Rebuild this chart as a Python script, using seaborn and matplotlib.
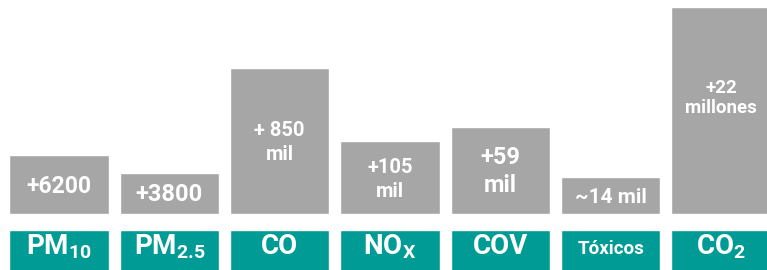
import matplotlib
matplotlib.use("Agg")
import matplotlib.pyplot as plt
import seaborn as sns
import pandas as pd

# ---- data ----
categories = ["PM10", "PM2.5", "CO", "NOx", "COV", "Tóxicos", "CO2"]
category_labels = [r"PM$_{\mathrm{10}}$", r"PM$_{\mathrm{2.5}}$", "CO",
                   r"NO$_{\mathrm{X}}$", "COV", "Tóxicos", r"CO$_{\mathrm{2}}$"]
bar_heights = [59, 41, 146, 73, 87, 37, 207]
value_labels = ["+6200", "+3800", "+ 850\nmil", "+105\nmil", "+59\nmil",
                "~14 mil", "+22\nmillones"]

# ---- style ----
GRAY = "#A6A6A6"
TEAL = "#009B95"
FONT = ["Roboto", "DejaVu Sans"]
value_sizes = [16.5, 17, 14.5, 14.5, 17, 15, 13.5]
value_yfrac = [0.47, 0.48, 0.49, 0.47, 0.49, 0.45, 0.56]
value_spacing = [1.3, 1.3, 1.35, 1.35, 1.3, 1.3, 1.1]
cat_sizes = [20, 20, 20, 20, 20, 13.5, 20]

sns.set_theme(style="white")
plt.rcParams["mathtext.fontset"] = "custom"
plt.rcParams["mathtext.rm"] = "Roboto:bold"
plt.rcParams["mathtext.it"] = "Roboto:bold"
plt.rcParams["mathtext.bf"] = "Roboto:bold"
plt.rcParams["font.family"] = FONT

df = pd.DataFrame({"cat": categories, "h": bar_heights, "one": [1] * len(categories)})

fig = plt.figure(figsize=(7.67, 2.70), dpi=100)
ax = fig.add_axes([0, 56 / 270, 1, 214 / 270])
axl = fig.add_axes([0, -0.05, 1, 40 / 270 + 0.05])

sns.barplot(data=df, x="cat", y="h", ax=ax, color=GRAY, saturation=1, width=0.9)
sns.barplot(data=df, x="cat", y="one", ax=axl, color=TEAL, saturation=1, width=0.9)

for a in (ax, axl):
    a.set_xlim(-0.535, 6.417)
    a.axis("off")
ax.set_ylim(0, 214)
axl.set_ylim(0, 1)

for i, (h, lab) in enumerate(zip(bar_heights, value_labels)):
    ax.text(i, h * value_yfrac[i], lab, ha="center", va="center", color="white",
            fontsize=value_sizes[i], fontweight="bold", family=FONT,
            linespacing=value_spacing[i])

for i, lab in enumerate(category_labels):
    axl.text(i, 0.55, lab, ha="center", va="baseline", color="white",
             fontsize=cat_sizes[i], fontweight="bold", family=FONT)

fig.savefig("out.png", dpi=100)
